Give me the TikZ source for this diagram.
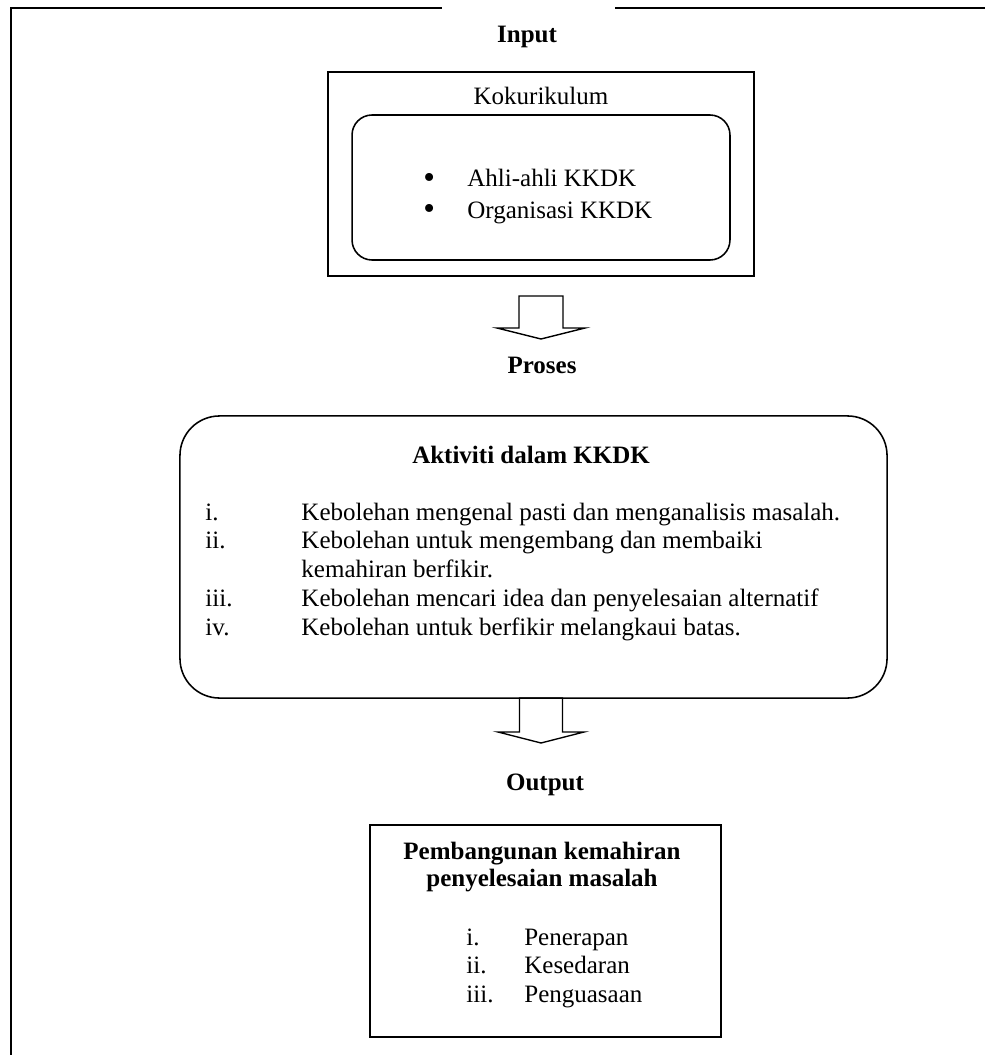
\documentclass[tikz,border=0pt]{standalone}
\usepackage{fontspec}
\setmainfont{Liberation Serif}
\usetikzlibrary{positioning}
\newcommand{\bigdot}{\raisebox{-0.5pt}{\fontsize{16}{16}\selectfont\textbullet}}
\tikzset{
  framebox/.style={rectangle, draw, line width=1pt, inner sep=0pt},
  roundbox/.style={rectangle, draw, rounded corners=9.6pt, line width=0.75pt, inner sep=0pt},
  bigroundbox/.style={rectangle, draw, rounded corners=19pt, line width=0.75pt, inner sep=0pt},
  heading/.style={font=\fontsize{12}{13.8}\selectfont\bfseries, inner sep=0pt, anchor=base},
  bodytext/.style={font=\fontsize{12}{13.8}\selectfont, inner sep=0pt},
  blockarrow/.style={draw, line width=0.65pt, line join=miter}
}

\begin{document}
\begin{tikzpicture}[x=0.48pt, y=-0.48pt]
  \useasboundingbox (0,0) rectangle (985,1055);
  % outer frame, open at the bottom and right
  \coordinate (fbl) at (11,1055);
  \coordinate (ftl) at (11,8);
  \draw[line width=1pt] (fbl) -- (ftl) -- (442,8);
  \draw[line width=1pt] (615,8) -- (985,8);

  % input
  \node[heading] (input) at (527,43) {Input};
  \node[framebox, minimum width=204.5pt, minimum height=97.9pt] (kok) at (541,174) {};
  \node[bodytext, anchor=base] (koktitle) at (541,105) {Kokurikulum};
  \node[roundbox, minimum width=181.4pt, minimum height=69.6pt] (kokinner) at (541,187.5) {};
  \node[bodytext, anchor=base west] (koklist) at (423,187) {\fontsize{12}{14.9}\selectfont
    \begin{tabular}[t]{@{}p{21.1pt}@{}l@{}}
      \bigdot & Ahli-ahli KKDK\\
      \bigdot & Organisasi KKDK
    \end{tabular}};

  \coordinate (arr1) at (541,296);
  \draw[blockarrow] (arr1) ++(-22,0) -- ++(0,32) -- ++(-22,0) -- ++(44,11) -- ++(44,-11) -- ++(-22,0) -- ++(0,-32) -- cycle;

  % proses
  \node[heading] (proses) at (542,374) {Proses};
  \node[bigroundbox, minimum width=339.4pt, minimum height=135.4pt] (aktiviti) at (533.5,557) {};
  \node[heading] (aktivititle) at (531,463) {Aktiviti dalam KKDK};
  \node[bodytext, anchor=base west] (aktivitilist) at (205,520) {%
    \begin{tabular}[t]{@{}p{46.1pt}@{}l@{}}
      i.   & Kebolehan mengenal pasti dan menganalisis masalah.\\
      ii.  & Kebolehan untuk mengembang dan membaiki\\
           & kemahiran berfikir.\\
      iii. & Kebolehan mencari idea dan penyelesaian alternatif\\
      iv.  & Kebolehan untuk berfikir melangkaui batas.
    \end{tabular}};

  \coordinate (arr2) at (541,698);
  \draw[blockarrow] (arr2) ++(-21.5,0) -- ++(0,34) -- ++(-21.5,0) -- ++(43,11) -- ++(43,-11) -- ++(-21.5,0) -- ++(0,-34) -- cycle;

  % output
  \node[heading] (output) at (545,790) {Output};
  \node[framebox, minimum width=168.5pt, minimum height=101.8pt] (hasil) at (545.5,931) {};
  \node[heading] (hasiltitle) at (542,859) {\fontsize{12}{13.4}\selectfont
    \begin{tabular}[t]{@{}c@{}}
      Pembangunan kemahiran\\
      penyelesaian masalah
    \end{tabular}};
  \node[bodytext, anchor=base west] (hasillist) at (466,945) {\fontsize{12}{13.7}\selectfont
    \begin{tabular}[t]{@{}p{27.8pt}@{}l@{}}
      i.   & Penerapan\\
      ii.  & Kesedaran\\
      iii. & Penguasaan
    \end{tabular}};
\end{tikzpicture}
\end{document}
